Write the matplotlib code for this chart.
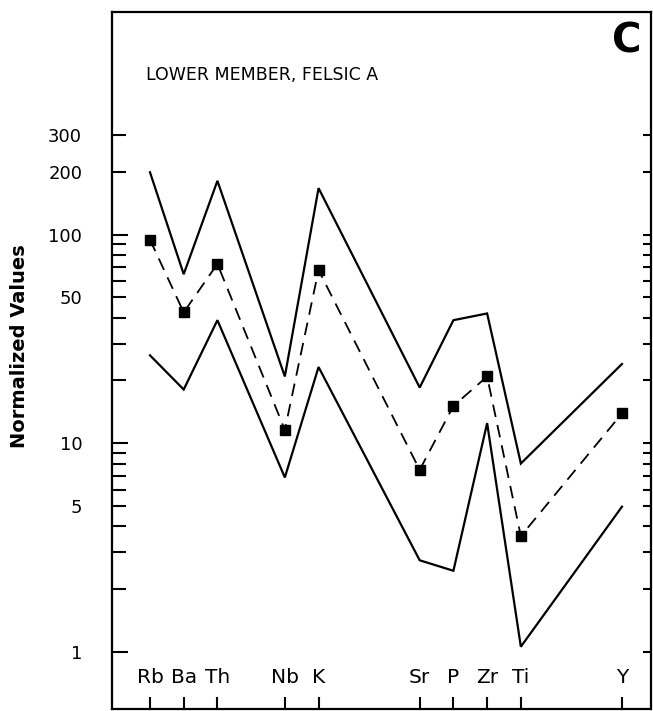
import matplotlib
matplotlib.use("Agg")
import matplotlib.pyplot as plt
from matplotlib.ticker import FixedLocator, FixedFormatter, NullFormatter

# Spidergram: lower member, felsic A
elements = ["Rb", "Ba", "Th", "Nb", "K", "Sr", "P", "Zr", "Ti", "Y"]
element_pos = [0, 1, 2, 4, 5, 8, 9, 10, 11, 14]
upper_envelope = [199, 64.6, 181, 20.9, 167, 18.5, 38.9, 41.9, 8.0, 24.0]
lower_envelope = [26.4, 18.1, 38.9, 6.86, 23.2, 2.75, 2.45, 12.5, 1.06, 4.97]
mean_values = [94.6, 42.4, 72.4, 11.6, 67.6, 7.46, 15.1, 20.9, 3.59, 13.9]

major_ticks = [1, 10, 100]
minor_ticks = [2, 3, 4, 5, 6, 7, 8, 9,
               20, 30, 40, 50, 60, 70, 80, 90,
               200, 300]
minor_labels = {5: "5", 50: "50", 200: "200", 300: "300"}

plt.rcParams["font.family"] = ["DejaVu Sans"]

fig = plt.figure(figsize=(6.53, 7.11), dpi=100)
ax = fig.add_axes([0.1715, 0.0028, 0.8254, 0.9803])

ax.set_yscale("log")
ax.set_ylim(0.533, 1166)
ax.set_xlim(-1.127, 14.86)

ax.plot(element_pos, upper_envelope, color="black", lw=1.6, solid_joinstyle="miter")
ax.plot(element_pos, lower_envelope, color="black", lw=1.6, solid_joinstyle="miter")
ax.plot(element_pos, mean_values, color="black", lw=1.3, dashes=(7, 4.5),
        marker="s", markersize=7.5, markerfacecolor="black", markeredgecolor="black")

# right-hand ticks, shorter and unlabelled
ax_r = ax.twinx()
ax_r.set_yscale("log")
ax_r.set_ylim(ax.get_ylim())
ax_r.yaxis.set_major_locator(FixedLocator(major_ticks))
ax_r.yaxis.set_minor_locator(FixedLocator(minor_ticks))
ax_r.yaxis.set_major_formatter(NullFormatter())
ax_r.yaxis.set_minor_formatter(NullFormatter())
ax_r.tick_params(axis="y", which="both", direction="in", length=6, width=1.5,
                 left=False, right=True, labelleft=False, labelright=False)
ax_r.tick_params(axis="x", which="both", bottom=False, top=False,
                 labelbottom=False, labeltop=False)
for s in ax_r.spines.values():
    s.set_visible(False)

# y axis ticks (left, labelled)
ax.yaxis.set_major_locator(FixedLocator(major_ticks))
ax.yaxis.set_major_formatter(FixedFormatter([str(v) for v in major_ticks]))
ax.yaxis.set_minor_locator(FixedLocator(minor_ticks))
ax.yaxis.set_minor_formatter(FixedFormatter([minor_labels.get(v, "") for v in minor_ticks]))
ax.tick_params(axis="y", which="major", direction="in", length=11.5, width=1.5,
               labelsize=13, pad=21.5, left=True, right=False)
ax.tick_params(axis="y", which="minor", direction="in", length=10, width=1.5,
               labelsize=13, pad=21.5, left=True, right=False)

# x axis: element ticks along the bottom, names drawn inside the frame
ax.set_xticks(element_pos)
ax.set_xticklabels([])
ax.xaxis.set_minor_locator(FixedLocator([]))
ax.tick_params(axis="x", which="major", direction="in", length=9, width=1.5,
               bottom=True, top=False)
for x, name in zip(element_pos, elements):
    ax.text(x, 0.0445, name, transform=ax.get_xaxis_transform(),
            ha="center", va="center", fontsize=14.5)

for s in ax.spines.values():
    s.set_linewidth(1.6)

ax.text(0.063, 0.9096, "LOWER MEMBER, FELSIC A", transform=ax.transAxes,
        ha="left", va="center", fontsize=12.5)
ax.text(0.9555, 0.957, "C", transform=ax.transAxes, ha="center", va="center",
        fontsize=29, fontweight="bold")

fig.text(0.0306, 0.5134, "Normalized Values", rotation=90, ha="center",
         va="center", fontsize=14, fontweight="bold")

fig.savefig("out.png", dpi=100)
